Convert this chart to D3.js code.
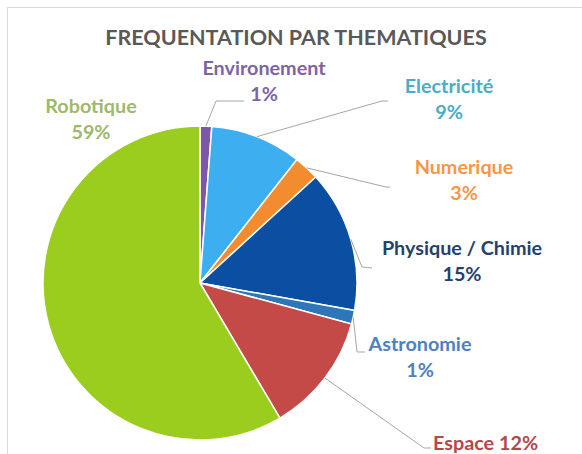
<!DOCTYPE html>
<html>
<head>
<meta charset="utf-8">
<script src="https://cdn.jsdelivr.net/npm/d3@7"></script>
<style>
  body { margin: 0; background: #fff; }
  svg { display: block; font-family: Lato, "Open Sans", sans-serif; }
</style>
</head>
<body>
<svg id="chart" width="582" height="454"></svg>
<script>
// chart data
const themes = ["Environement", "Electricité", "Numerique", "Physique / Chimie", "Astronomie", "Espace", "Robotique"];
const shares = [1.2, 9.4, 2.6, 14.6, 1.4, 12.3, 58.5];
const pctLabels = ["1%", "9%", "3%", "15%", "1%", "12%", "59%"];
const sliceColors = ["#7e57a8", "#3daef0", "#f28c2e", "#0b4fa3", "#2f76b8", "#c44a47", "#9bcd1e"];
const textColors = ["#8064a2", "#4bacc6", "#f79646", "#263f6e", "#4f81bd", "#b8454a", "#a0b86a"];

// label placement (center x, first baseline), elbow of leader line
const labelAt = [
  { x: 264, y: 75, elbow: [216, 101], end: [244, 101] },
  { x: 449, y: 93, elbow: [382, 101], end: [388, 101] },
  { x: 464, y: 174, elbow: [386, 187], end: [390, 187] },
  { x: 462, y: 255, elbow: [362, 267], end: [372, 268] },
  { x: 420, y: 351, elbow: [357, 352], end: [365, 352] },
  { x: 433, y: 450, elbow: [424, 448], end: [431, 448], oneLine: true },
  { x: 91, y: 113, none: true }
];

const svg = d3.select("#chart");

// outer frame
svg.append("rect")
  .attr("x", 7.5).attr("y", 7.5)
  .attr("width", 620).attr("height", 500)
  .attr("fill", "none")
  .attr("stroke", "#d9d9d9");

svg.append("text")
  .attr("x", 296).attr("y", 45)
  .attr("text-anchor", "middle")
  .attr("font-size", 21.5)
  .attr("font-weight", 700)
  .attr("fill", "#595959")
  .text("FREQUENTATION PAR THEMATIQUES");

const cx = 200, cy = 283, r = 157;
const pie = d3.pie().sort(null).value(d => d);
const arcs = pie(shares);
const arc = d3.arc().innerRadius(0).outerRadius(r);

const g = svg.append("g").attr("transform", `translate(${cx},${cy})`);

g.selectAll("path")
  .data(arcs)
  .enter()
  .append("path")
  .attr("d", arc)
  .attr("fill", (d, i) => sliceColors[i])
  .attr("stroke", "#fff")
  .attr("stroke-width", 1.5);

// leader lines from the slice edge
arcs.forEach((d, i) => {
  const p = labelAt[i];
  if (p.none) return;
  const a = (d.startAngle + d.endAngle) / 2;
  const start = [cx + r * Math.sin(a), cy - r * Math.cos(a)];
  svg.append("polyline")
    .attr("points", [start, p.elbow, p.end].map(q => q.join(",")).join(" "))
    .attr("fill", "none")
    .attr("stroke", "#a6a6a6")
    .attr("stroke-width", 1);
});

// labels
themes.forEach((name, i) => {
  const p = labelAt[i];
  const t = svg.append("text")
    .attr("font-size", 19.8)
    .attr("font-weight", 700)
    .attr("fill", textColors[i]);
  if (p.oneLine) {
    t.attr("x", p.x).attr("y", p.y).attr("text-anchor", "start")
      .text(name + " " + pctLabels[i]);
  } else {
    t.attr("text-anchor", "middle");
    t.append("tspan").attr("x", p.x).attr("y", p.y).text(name);
    t.append("tspan").attr("x", p.x).attr("y", p.y + 26).text(pctLabels[i]);
  }
});
</script>
</body>
</html>
